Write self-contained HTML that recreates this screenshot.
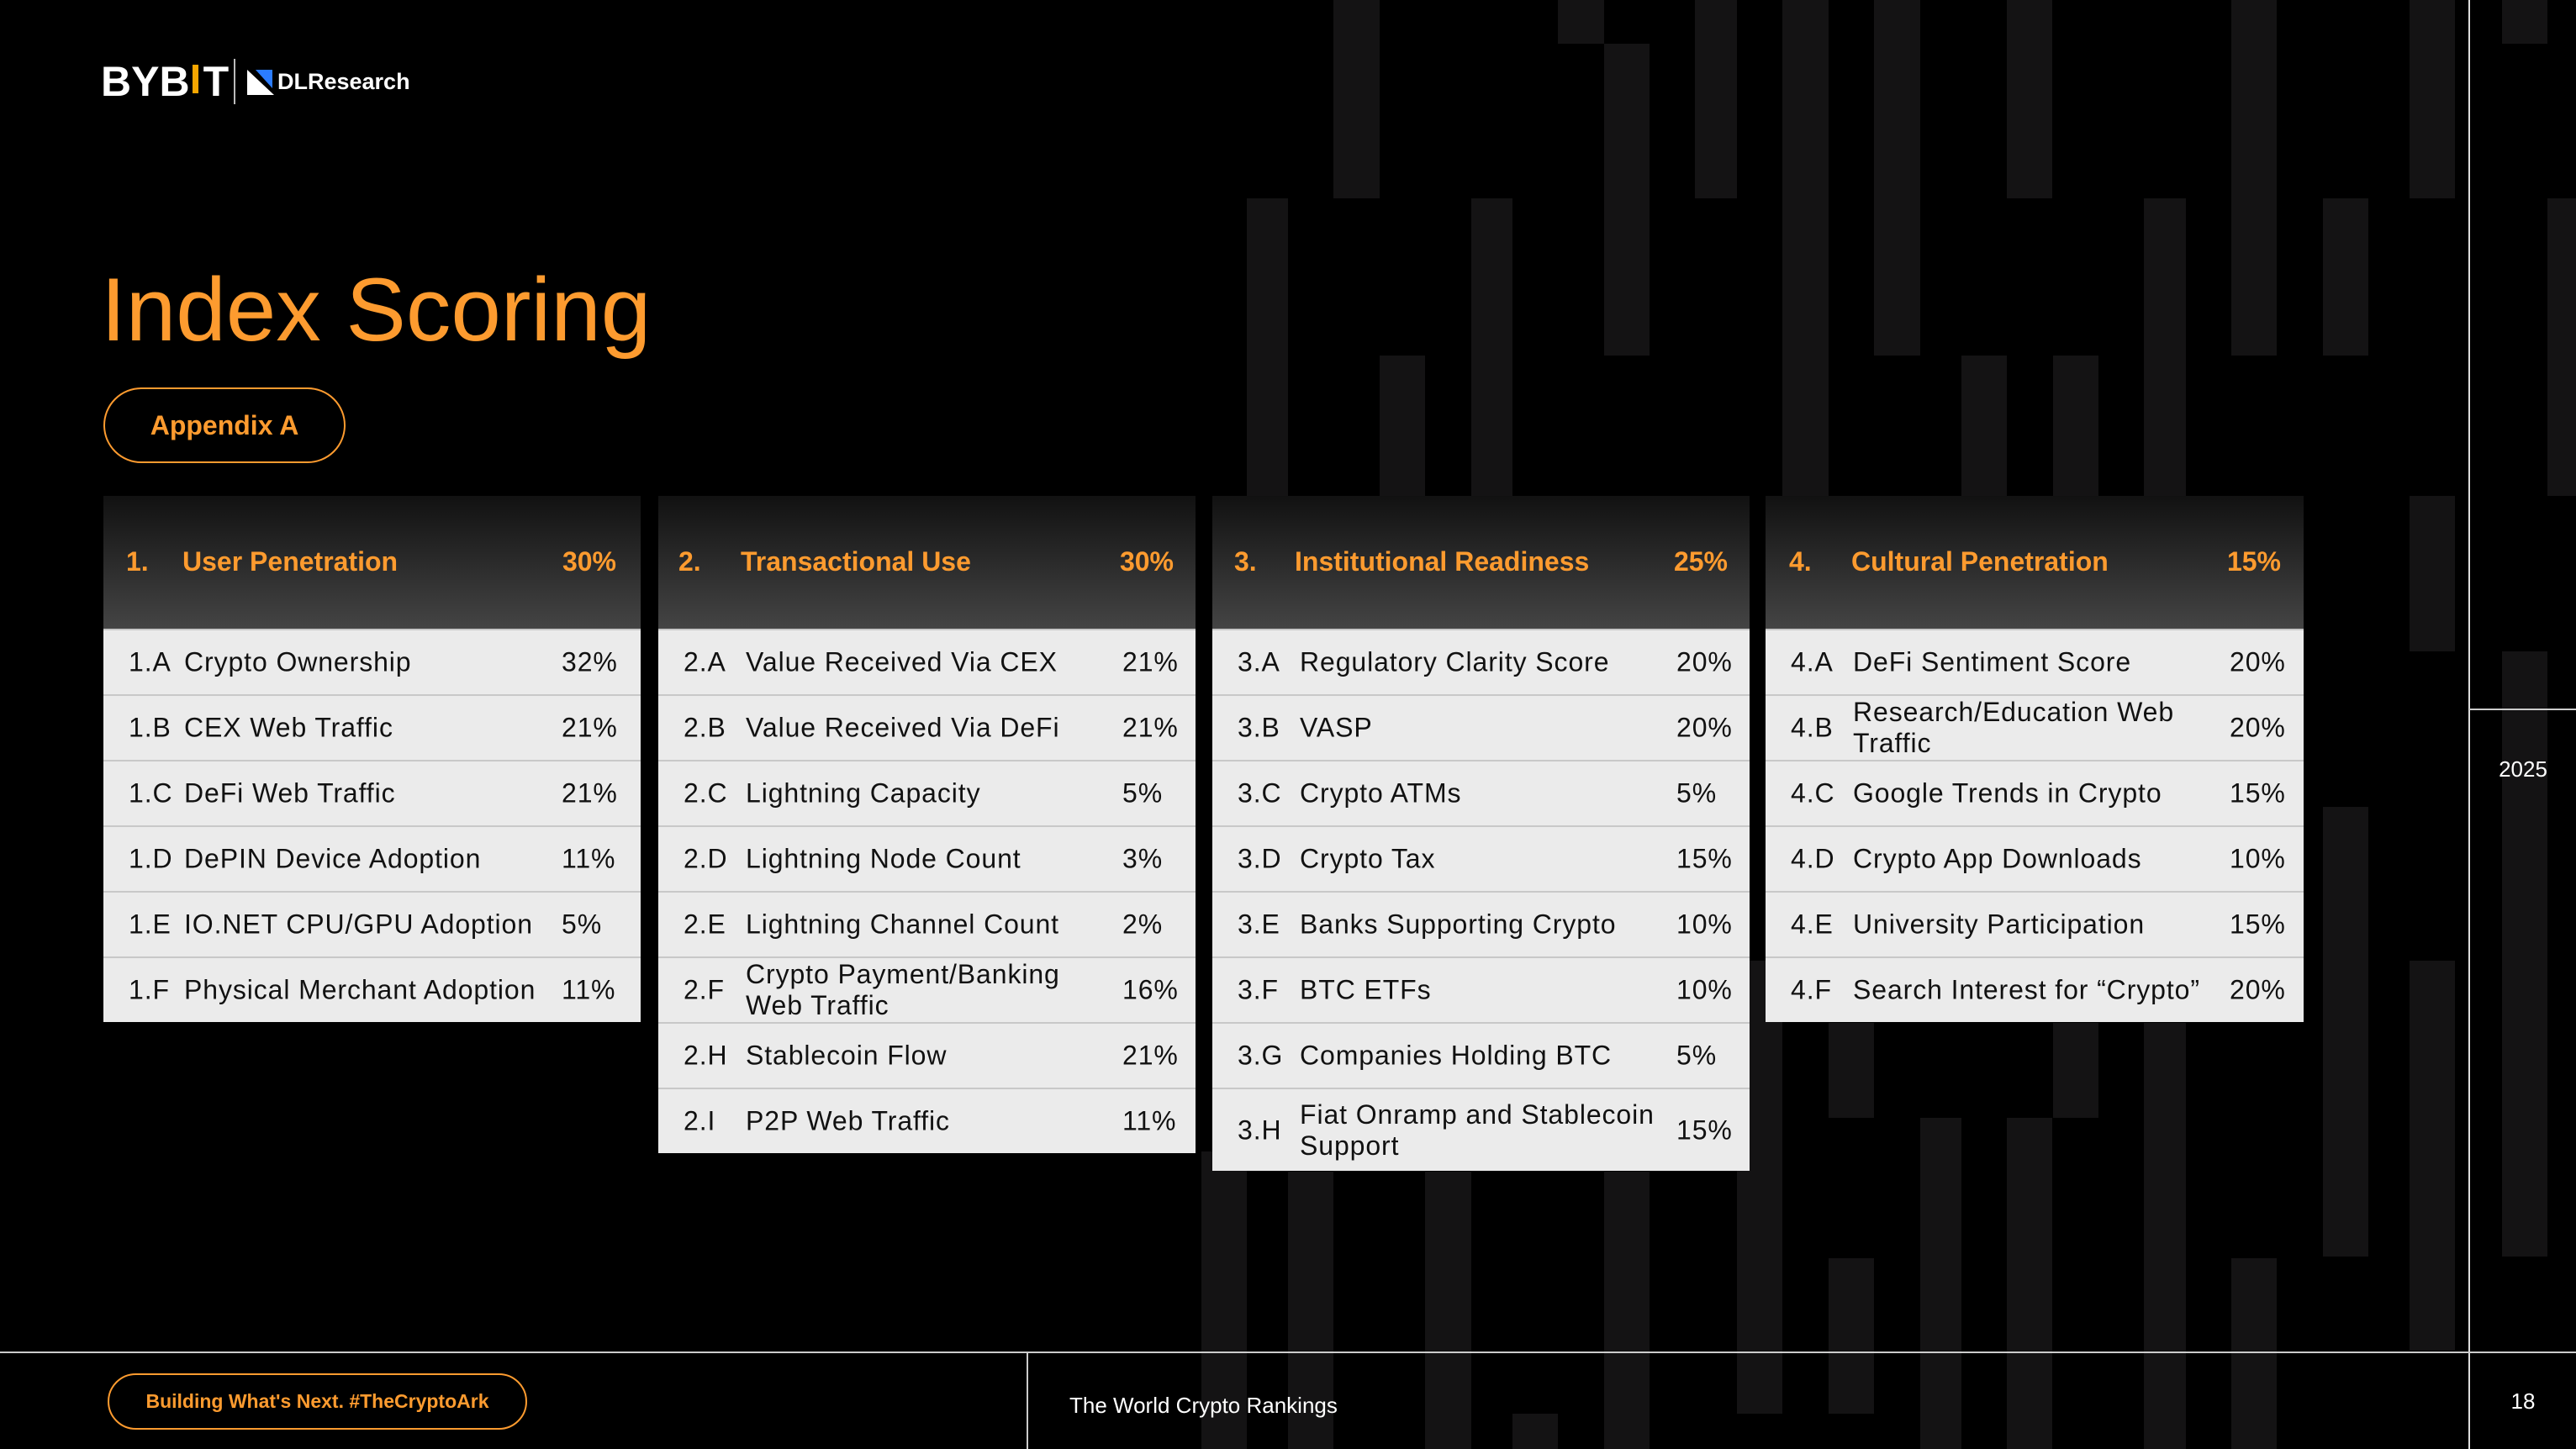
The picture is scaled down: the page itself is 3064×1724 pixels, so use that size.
<!DOCTYPE html>
<html><head><meta charset="utf-8"><style>
*{margin:0;padding:0;box-sizing:border-box}
body{width:3064px;height:1724px;background:#000;position:relative;overflow:hidden;font-family:"Liberation Sans",sans-serif}
.b{position:absolute;background:#141314}
.abs{position:absolute}
.tbl{position:absolute;top:590px;width:639px}
.hd{height:158px;background:linear-gradient(#111,#444);position:relative;color:#fd9b2f;font-weight:bold;font-size:32px}
.hd span{position:absolute;top:60px}
.row{height:78px;background:#ebebeb;border-top:2px solid #c8c8c8;position:relative;color:#111;font-size:32px;letter-spacing:0.9px}
.row:first-of-type{border-top:none}
.row span{position:absolute;top:50%;transform:translateY(-50%);line-height:37px;white-space:nowrap}
.c{left:30px}.l{left:104px}.p{left:552px}
</style></head><body>
<div class="b" style="left:1586px;top:0;width:55px;height:236px"></div>
<div class="b" style="left:1483px;top:236px;width:49px;height:354px"></div>
<div class="b" style="left:1641px;top:423px;width:54px;height:167px"></div>
<div class="b" style="left:1750px;top:236px;width:49px;height:354px"></div>
<div class="b" style="left:1853px;top:0;width:55px;height:52px"></div>
<div class="b" style="left:1908px;top:52px;width:54px;height:371px"></div>
<div class="b" style="left:2016px;top:0;width:50px;height:236px"></div>
<div class="b" style="left:2120px;top:0;width:55px;height:590px"></div>
<div class="b" style="left:2229px;top:0;width:55px;height:423px"></div>
<div class="b" style="left:2333px;top:423px;width:54px;height:167px"></div>
<div class="b" style="left:2387px;top:0;width:54px;height:236px"></div>
<div class="b" style="left:2442px;top:423px;width:54px;height:167px"></div>
<div class="b" style="left:2550px;top:236px;width:50px;height:354px"></div>
<div class="b" style="left:2654px;top:0;width:54px;height:423px"></div>
<div class="b" style="left:2763px;top:236px;width:54px;height:187px"></div>
<div class="b" style="left:2866px;top:0;width:54px;height:236px"></div>
<div class="b" style="left:2866px;top:590px;width:54px;height:185px"></div>
<div class="b" style="left:2976px;top:0;width:54px;height:52px"></div>
<div class="b" style="left:2976px;top:775px;width:54px;height:720px"></div>
<div class="b" style="left:3030px;top:236px;width:34px;height:354px"></div>
<div class="b" style="left:2763px;top:960px;width:54px;height:535px"></div>
<div class="b" style="left:2866px;top:1143px;width:54px;height:464px"></div>
<div class="b" style="left:2654px;top:1497px;width:54px;height:227px"></div>
<div class="b" style="left:2550px;top:1217px;width:50px;height:507px"></div>
<div class="b" style="left:2442px;top:1217px;width:54px;height:113px"></div>
<div class="b" style="left:2387px;top:1330px;width:54px;height:394px"></div>
<div class="b" style="left:2284px;top:1330px;width:49px;height:394px"></div>
<div class="b" style="left:2175px;top:1217px;width:54px;height:113px"></div>
<div class="b" style="left:2175px;top:1497px;width:54px;height:185px"></div>
<div class="b" style="left:2066px;top:1143px;width:54px;height:539px"></div>
<div class="b" style="left:1908px;top:1394px;width:54px;height:330px"></div>
<div class="b" style="left:1799px;top:1682px;width:54px;height:42px"></div>
<div class="b" style="left:1695px;top:1394px;width:55px;height:330px"></div>
<div class="b" style="left:1532px;top:1394px;width:54px;height:330px"></div>
<div class="b" style="left:1429px;top:1370px;width:54px;height:354px"></div>

<div class="abs" style="left:2936px;top:0;width:2px;height:1724px;background:#ddd"></div>
<div class="abs" style="left:0;top:1608px;width:3064px;height:2px;background:#ccc"></div>
<div class="abs" style="left:2937px;top:843px;width:127px;height:2px;background:#ccc"></div>
<div class="abs" style="left:1221px;top:1609px;width:2px;height:115px;background:#ccc"></div>

<div class="abs" style="left:120px;top:68px;color:#fff;font-weight:bold;font-size:50px;letter-spacing:0px">BYB<span style="display:inline-block;width:7px;height:34px;background:#f7a600;margin:0 6px 14px 3px;vertical-align:middle"></span>T</div>
<div class="abs" style="left:278px;top:70px;width:2px;height:54px;background:#bbb"></div>
<svg class="abs" style="left:294px;top:83px" width="32" height="30" viewBox="0 0 32 30"><polygon points="0,0 32,30 0,30" fill="#fff"/><polygon points="10,0 30,0 30,22" fill="#2b7cff"/></svg>
<div class="abs" style="left:330px;top:82px;color:#fff;font-weight:bold;font-size:27px">DLResearch</div>

<div class="abs" style="left:120px;top:308px;color:#fd9b2f;font-size:107px;line-height:120px">Index Scoring</div>
<div class="abs" style="left:123px;top:461px;width:288px;height:90px;border:2px solid #fd9b2f;border-radius:45px;color:#fd9b2f;font-weight:bold;font-size:32px;text-align:center;line-height:86px">Appendix A</div>

<div class="tbl" style="left:123px">
<div class="hd"><span style="left:27px">1.</span><span style="left:94px">User Penetration</span><span style="right:29px">30%</span></div>
<div class="row"><span class="c">1.A</span><span class="l" style="left:96px">Crypto Ownership</span><span class="p" style="left:545px">32%</span></div>
<div class="row"><span class="c">1.B</span><span class="l" style="left:96px">CEX Web Traffic</span><span class="p" style="left:545px">21%</span></div>
<div class="row"><span class="c">1.C</span><span class="l" style="left:96px">DeFi Web Traffic</span><span class="p" style="left:545px">21%</span></div>
<div class="row"><span class="c">1.D</span><span class="l" style="left:96px">DePIN Device Adoption</span><span class="p" style="left:545px">11%</span></div>
<div class="row"><span class="c">1.E</span><span class="l" style="left:96px">IO.NET CPU/GPU Adoption</span><span class="p" style="left:545px">5%</span></div>
<div class="row"><span class="c">1.F</span><span class="l" style="left:96px">Physical Merchant Adoption</span><span class="p" style="left:545px">11%</span></div>
</div>

<div class="tbl" style="left:783px">
<div class="hd"><span style="left:24px">2.</span><span style="left:98px">Transactional Use</span><span style="right:26px">30%</span></div>
<div class="row"><span class="c">2.A</span><span class="l">Value Received Via CEX</span><span class="p">21%</span></div>
<div class="row"><span class="c">2.B</span><span class="l">Value Received Via DeFi</span><span class="p">21%</span></div>
<div class="row"><span class="c">2.C</span><span class="l">Lightning Capacity</span><span class="p">5%</span></div>
<div class="row"><span class="c">2.D</span><span class="l">Lightning Node Count</span><span class="p">3%</span></div>
<div class="row"><span class="c">2.E</span><span class="l">Lightning Channel Count</span><span class="p">2%</span></div>
<div class="row"><span class="c">2.F</span><span class="l">Crypto Payment/Banking<br>Web Traffic</span><span class="p">16%</span></div>
<div class="row"><span class="c">2.H</span><span class="l">Stablecoin Flow</span><span class="p">21%</span></div>
<div class="row"><span class="c">2.I</span><span class="l">P2P Web Traffic</span><span class="p">11%</span></div>
</div>

<div class="tbl" style="left:1442px">
<div class="hd"><span style="left:26px">3.</span><span style="left:98px">Institutional Readiness</span><span style="right:26px">25%</span></div>
<div class="row"><span class="c">3.A</span><span class="l">Regulatory Clarity Score</span><span class="p">20%</span></div>
<div class="row"><span class="c">3.B</span><span class="l">VASP</span><span class="p">20%</span></div>
<div class="row"><span class="c">3.C</span><span class="l">Crypto ATMs</span><span class="p">5%</span></div>
<div class="row"><span class="c">3.D</span><span class="l">Crypto Tax</span><span class="p">15%</span></div>
<div class="row"><span class="c">3.E</span><span class="l">Banks Supporting Crypto</span><span class="p">10%</span></div>
<div class="row"><span class="c">3.F</span><span class="l">BTC ETFs</span><span class="p">10%</span></div>
<div class="row"><span class="c">3.G</span><span class="l">Companies Holding BTC</span><span class="p">5%</span></div>
<div class="row" style="height:99px"><span class="c">3.H</span><span class="l">Fiat Onramp and Stablecoin<br>Support</span><span class="p">15%</span></div>
</div>

<div class="tbl" style="left:2100px;width:640px">
<div class="hd"><span style="left:28px">4.</span><span style="left:102px">Cultural Penetration</span><span style="right:27px">15%</span></div>
<div class="row"><span class="c">4.A</span><span class="l">DeFi Sentiment Score</span><span class="p">20%</span></div>
<div class="row"><span class="c">4.B</span><span class="l">Research/Education Web<br>Traffic</span><span class="p">20%</span></div>
<div class="row"><span class="c">4.C</span><span class="l">Google Trends in Crypto</span><span class="p">15%</span></div>
<div class="row"><span class="c">4.D</span><span class="l">Crypto App Downloads</span><span class="p">10%</span></div>
<div class="row"><span class="c">4.E</span><span class="l">University Participation</span><span class="p">15%</span></div>
<div class="row"><span class="c">4.F</span><span class="l">Search Interest for “Crypto”</span><span class="p">20%</span></div>
</div>

<div class="abs" style="left:128px;top:1634px;width:499px;height:67px;border:2px solid #fd9b2f;border-radius:34px;color:#fd9b2f;font-weight:bold;font-size:23px;text-align:center;line-height:63px">Building What's Next. #TheCryptoArk</div>
<div class="abs" style="left:1272px;top:1657px;color:#fff;font-size:26px">The World Crypto Rankings</div>
<div class="abs" style="left:2945px;top:900px;width:112px;text-align:center;color:#fff;font-size:26px">2025</div>
<div class="abs" style="left:2945px;top:1652px;width:112px;text-align:center;color:#fff;font-size:26px">18</div>
</body></html>
